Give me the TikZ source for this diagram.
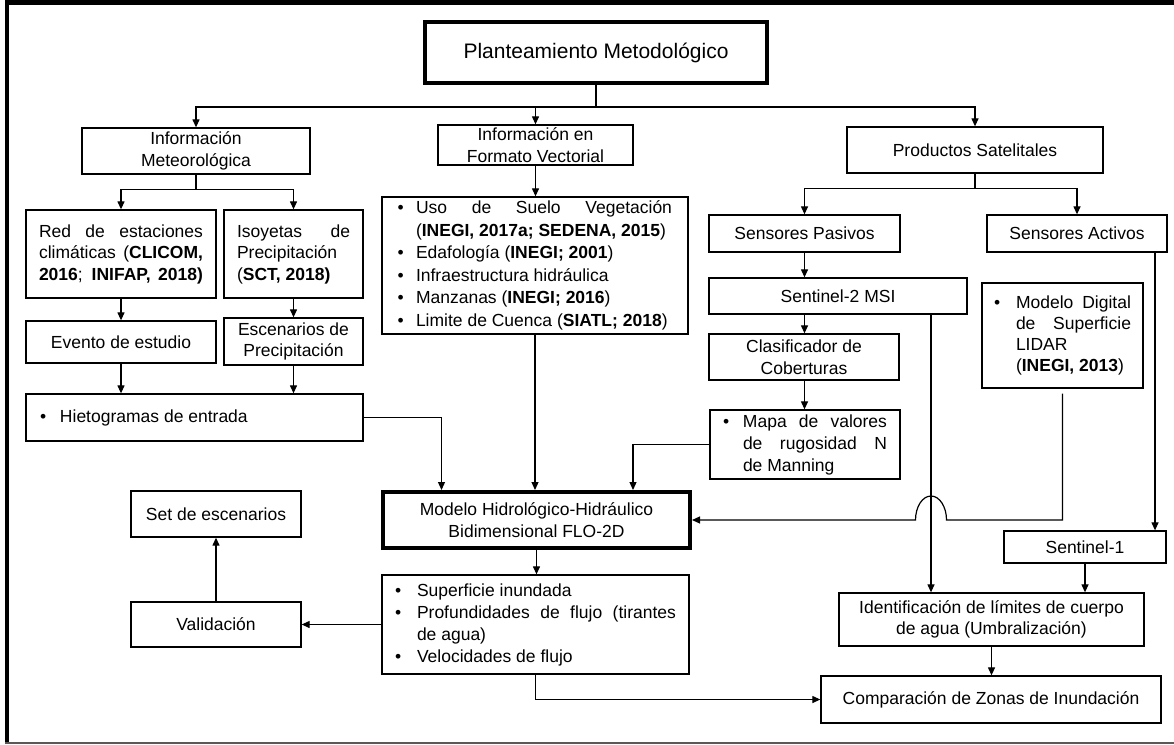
\documentclass[tikz,border=0pt]{standalone}
\usepackage{fontspec}
\setmainfont{Liberation Sans}
\usetikzlibrary{arrows.meta,calc}
\setlength{\parindent}{0pt}
\newcommand{\bulw}[1]{\makebox[#1][l]{\textbullet}}
\newcommand{\jst}[2]{\makebox[#1][s]{\spaceskip=0.278em plus 1fil\xspaceskip=0.278em plus 1fil #2}}
\newcommand{\ns}{\spaceskip=0pt\xspaceskip=0pt }
\begin{document}
\begin{tikzpicture}[x=1pt,y=-1pt,
  box/.style={draw=black,line width=1.3pt,inner sep=0pt,align=center,font=\fontsize{17.5}{21.5}\selectfont},
  thickbox/.style={box,line width=4pt},
  arr/.style={line width=1.2pt,-{Triangle[length=8pt,width=7pt]}},
  ln/.style={line width=1.2pt}]
\useasboundingbox (0,0) rectangle (1174,744);
% frame
\draw[line width=5pt] (5,2.5) -- (1174,2.5);
\draw[line width=4pt] (7,0) -- (7,744);
\draw[black!65,line width=1.2pt] (5,743) -- (1174,743);

% nodes
\node[thickbox,minimum width=342pt,minimum height=61pt,font=\fontsize{21}{25}\selectfont] (Plan) at (596,52.5) {Planteamiento Metodológico};
\node[box,minimum width=228pt,minimum height=46pt] (InfoMet) at (196,151) {Información\\Meteorológica};
\node[box,minimum width=195pt,minimum height=40pt] (InfoVec) at (535.5,145) {Información en\\Formato Vectorial};
\node[box,minimum width=256pt,minimum height=46pt] (Prod) at (975,150) {Productos Satelitales};

\node[box,minimum width=190pt,minimum height=88pt,text width=164pt,align=left] (Red) at (121,254)
  {\ns\jst{164pt}{Red de estaciones}\\\jst{164pt}{climáticas (\textbf{CLICOM,}}\\\jst{164pt}{\textbf{2016}; \textbf{INIFAP, 2018)}}};
\node[box,minimum width=139pt,minimum height=88pt,text width=113pt,align=left] (Iso) at (293.5,254)
  {\ns\jst{113pt}{Isoyetas de}\\Precipitación\\(\textbf{SCT, 2018)}};
\node[box,minimum width=190pt,minimum height=42pt] (Evento) at (121,342) {Evento de estudio};
\node[box,minimum width=139pt,minimum height=47pt] (Escen) at (293.5,341.5) {Escenarios de\\Precipitación};
\node[box,minimum width=337pt,minimum height=47pt,text width=309pt,align=left] (Hieto) at (194.5,417.5)
  {\ns\bulw{20pt}Hietogramas de entrada};

\node[box,minimum width=306pt,minimum height=137pt,text width=275pt,align=left,font=\fontsize{17.5}{22.5}\selectfont] (VecList) at (535,265.5)
  {\ns\bulw{18.5pt}\jst{256pt}{Uso de Suelo Vegetación}\\
   \hspace*{18.5pt}(\textbf{INEGI, 2017a; SEDENA, 2015})\\
   \bulw{18.5pt}Edafología (\textbf{INEGI; 2001})\\
   \bulw{18.5pt}Infraestructura hidráulica\\
   \bulw{18.5pt}Manzanas (\textbf{INEGI; 2016})\\
   \bulw{18.5pt}Limite de Cuenca (\textbf{SIATL; 2018})};

\node[box,minimum width=191pt,minimum height=37pt] (SPas) at (804.5,233.5) {Sensores Pasivos};
\node[box,minimum width=180pt,minimum height=37pt] (SAct) at (1077,233.5) {Sensores Activos};
\node[box,minimum width=258pt,minimum height=36pt] (S2) at (838,296) {Sentinel-2 MSI};
\node[box,minimum width=190pt,minimum height=46pt] (Clas) at (804,357) {Clasificador de\\Coberturas};
\node[box,minimum width=190pt,minimum height=69pt,text width=164pt,align=left,font=\fontsize{17.5}{22}\selectfont] (Mapa) at (805,444.5)
  {\ns\bulw{20pt}\jst{144pt}{Mapa de valores}\\\hspace*{20pt}\jst{144pt}{de rugosidad N}\\\hspace*{20pt}de Manning};
\node[box,minimum width=161pt,minimum height=105pt,text width=137pt,align=left,font=\fontsize{17.5}{21}\selectfont] (LIDAR) at (1062.5,335.5)
  {\ns\bulw{22pt}\jst{115pt}{Modelo Digital}\\\hspace*{22pt}\jst{115pt}{de Superficie}\\\hspace*{22pt}LIDAR\\\hspace*{22pt}(\textbf{INEGI, 2013})};

\node[thickbox,minimum width=307pt,minimum height=56pt,font=\fontsize{17.5}{22}\selectfont] (Modelo) at (536.5,520) {Modelo Hidrológico-Hidráulico\\Bidimensional FLO-2D};
\node[box,minimum width=162pt,minimum height=32pt] (S1) at (1085,547) {Sentinel-1};
\node[box,minimum width=170pt,minimum height=46pt] (Set) at (216,514) {Set de escenarios};
\node[box,minimum width=170pt,minimum height=45pt] (Valid) at (216,624.5) {Validación};
\node[box,minimum width=307pt,minimum height=99pt,text width=281pt,align=left,font=\fontsize{17.5}{22}\selectfont] (Results) at (535.5,624.5)
  {\ns\bulw{22pt}Superficie inundada\\\bulw{22pt}\jst{259pt}{Profundidades de flujo (tirantes}\\\hspace*{22pt}de agua)\\\bulw{22pt}Velocidades de flujo};
\node[box,minimum width=305pt,minimum height=53pt] (Ident) at (991.5,619.5) {Identificación de límites de cuerpo\\de agua (Umbralización)};
\node[box,minimum width=340pt,minimum height=47pt] (Comp) at (991,699.5) {Comparación de Zonas de Inundación};

% connectors
\draw[ln] (Plan.south) -- ++(0,22) coordinate (b1);
\draw[arr] (b1) -| (InfoMet.north);
\draw[arr] (b1) -| (Prod.north);
\draw[arr] (InfoVec.north |- b1) -- (InfoVec.north);

\draw[ln] (InfoMet.south) -- ++(0,15) coordinate (b2);
\draw[arr] (b2) -| (Red.north);
\draw[arr] (b2) -| (Iso.north);
\draw[arr] (Red.south) -- (Evento.north);
\draw[arr] (Iso.south) -- (Escen.north);
\draw[arr] (Evento.south) -- (Evento.south |- Hieto.north);
\draw[arr] (Escen.south) -- (Escen.south |- Hieto.north);
\draw[arr] (Hieto.east) -| ($(Modelo.north)+(-95,0)$);
\draw[arr] (InfoVec.south) -- (InfoVec.south |- VecList.north);
\draw[arr] (VecList.south) -- (VecList.south |- Modelo.north);
\draw[arr] (Mapa.west) -| ($(Modelo.north)+(96.5,0)$);

\draw[ln] (Prod.south) -- ++(0,15) coordinate (b3);
\draw[arr] (b3) -| (SPas.north);
\draw[arr] (b3) -| (SAct.north);
\draw[arr] (SPas.south) -- (SPas.south |- S2.north);
\draw[arr] (SPas.south |- S2.south) -- (SPas.south |- Clas.north);
\draw[arr] (SPas.south |- Clas.south) -- (SPas.south |- Mapa.north);

\coordinate (s2x) at ($(S2.south)+(93,0)$);
\coordinate (hopc) at (s2x |- Modelo.east);
\draw[arr] (s2x) -- (s2x |- Ident.north);
\draw[arr] ([yshift=-5pt]LIDAR.south) |- ($(hopc)+(15.5,0)$) arc[start angle=0,end angle=180,x radius=15.5pt,y radius=24pt] -- (Modelo.east);

\coordinate (sax) at ($(SAct.south)+(78,0)$);
\draw[arr] (sax) -- (sax |- S1.north);
\draw[arr] (S1.south) -- (S1.south |- Ident.north);
\draw[arr] (Ident.south) -- (Ident.south |- Comp.north);

\draw[arr] (Modelo.south) -- (Modelo.south |- Results.north);
\draw[arr] (Results.west) -- (Valid.east);
\draw[arr] (Valid.north) -- (Set.south);
\draw[arr] (Results.south) |- (Comp.west);
\end{tikzpicture}
\end{document}
